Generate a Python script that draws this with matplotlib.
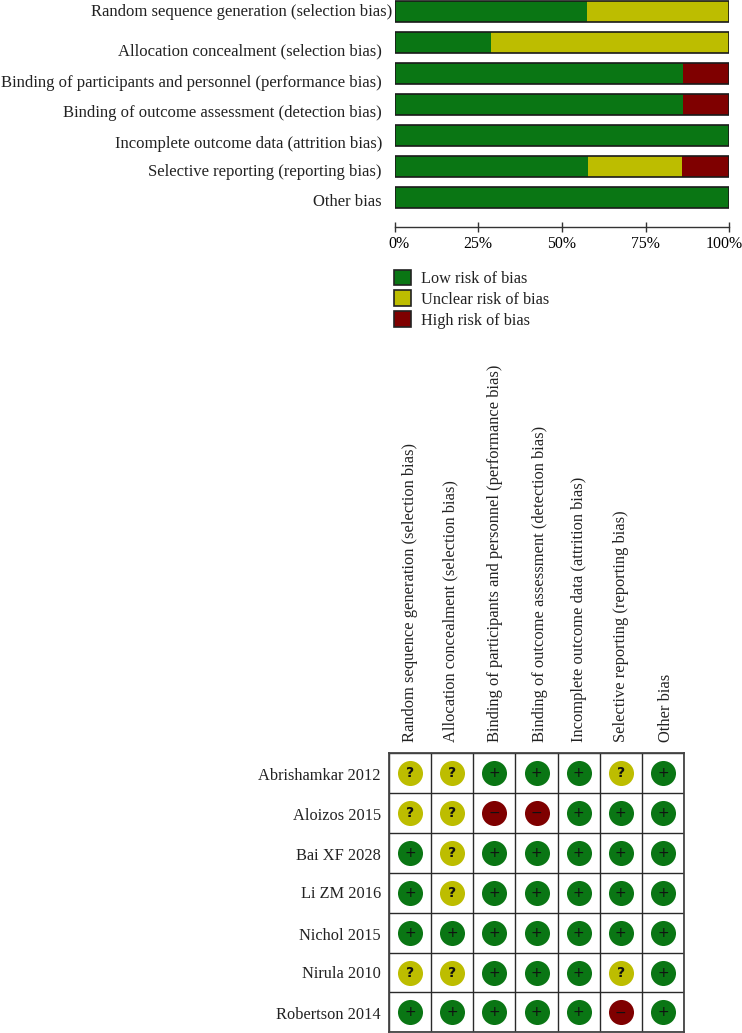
import matplotlib
matplotlib.use("Agg")
import matplotlib.pyplot as plt
from matplotlib.patches import Patch
from matplotlib.transforms import ScaledTranslation

W, H = 742, 1033
plt.rcParams['font.family'] = ['Liberation Serif', 'DejaVu Serif']
plt.rcParams['text.color'] = '#222222'

domains = ['Random sequence generation (selection bias)',
           'Allocation concealment (selection bias)',
           'Binding of participants and personnel (performance bias)',
           'Binding of outcome assessment (detection bias)',
           'Incomplete outcome data (attrition bias)',
           'Selective reporting (reporting bias)',
           'Other bias']
low = [57.4, 28.9, 86.1, 86.1, 100, 57.8, 100]
unclear = [42.6, 71.1, 0, 0, 0, 28.1, 0]
high = [0, 0, 13.9, 13.9, 0, 14.1, 0]

studies = ['Abrishamkar 2012', 'Aloizos 2015', 'Bai XF 2028', 'Li ZM 2016',
           'Nichol 2015', 'Nirula 2010', 'Robertson 2014']
ratings = ['??+++?+',
           '??--+++',
           '+?+++++',
           '+?+++++',
           '+++++++',
           '??+++?+',
           '+++++-+']

green = '#0a7614'
yellow = '#bdbd00'
red = '#7f0000'
colors = {'+': green, '?': yellow, '-': red}
symbols = {'+': '+', '?': '?', '-': '\u2212'}

# the labels in the source sit a little off their rows, offsets in px
bar_label_dx = [10, 0, 0, 0, 0, 0, 0]
bar_label_dy = [0.5, 8.5, 9.5, 8.5, 8.5, 5, 4.5]
study_label_dy = [3, 3, 3, 1, 3, 1, 3]
col_label_dx = [0, -2, 1, 3, 0, 0, 3]


def px_axes(fig, left, top, right, bottom):
    return fig.add_axes([left / W, 1 - bottom / H, (right - left) / W, (bottom - top) / H])


fig = plt.figure(figsize=(W / 100, H / 100), dpi=100)

# summary bars
ax = px_axes(fig, 394.5, 0, 729.5, 226.5)
ypos = list(range(len(domains)))
left_u = low
left_h = [a + b for a, b in zip(low, unclear)]
for vals, start, c in [(low, [0] * 7, green), (unclear, left_u, yellow), (high, left_h, red)]:
    ax.barh(ypos, vals, left=start, height=0.69, color=c, edgecolor='none', zorder=2)
ax.barh(ypos, [100] * 7, height=0.69, facecolor='none', edgecolor='#1a1a1a', linewidth=1.2, zorder=3)
ax.set_xlim(0, 100)
ax.set_ylim(215 / 31, -11.5 / 31)
for s in ['top', 'left', 'right']:
    ax.spines[s].set_visible(False)
ax.spines['bottom'].set_color('#333333')
ax.spines['bottom'].set_linewidth(1.0)
ax.set_yticks([])
for y, name, dx, dy in zip(ypos, domains, bar_label_dx, bar_label_dy):
    ax.annotate(name, (0, y), xytext=((dx - 12.5) * 0.72, -dy * 0.72), textcoords='offset points',
                ha='right', va='center', fontsize=12)
ax.set_xticks([0, 25, 50, 75, 100])
ax.set_xticklabels(['0%', '25%', '50%', '75%', '100%'], fontsize=11.4)
ax.tick_params(axis='x', direction='inout', length=7, width=1, color='#333333', pad=3.5)
xlabels = ax.get_xticklabels()
xlabels[0].set_transform(xlabels[0].get_transform() + ScaledTranslation(4 / 100, 0, fig.dpi_scale_trans))
xlabels[4].set_transform(xlabels[4].get_transform() + ScaledTranslation(-5 / 100, 0, fig.dpi_scale_trans))

# legend
handles = [Patch(facecolor=green, edgecolor='#222222', linewidth=1.2),
           Patch(facecolor=yellow, edgecolor='#222222', linewidth=1.2),
           Patch(facecolor=red, edgecolor='#222222', linewidth=1.2)]
fig.legend(handles, ['Low risk of bias', 'Unclear risk of bias', 'High risk of bias'],
           loc='upper left', bbox_to_anchor=(394 / W, 1 - 269.5 / H), frameon=False, fontsize=11.7,
           handlelength=1.05, handleheight=1.1, handletextpad=0.62, labelspacing=0.22,
           borderpad=0, borderaxespad=0)

# study matrix
mx = px_axes(fig, 389, 753.3, 684, 1032.3)
mx.set_xlim(0, 7)
mx.set_ylim(7, 0)
for row, code in enumerate(ratings):
    for col, r in enumerate(code):
        mx.scatter(col + 0.5, row + 0.5, s=325, color=colors[r], linewidths=0, zorder=3, clip_on=False)
        mx.annotate(symbols[r], (col + 0.5, row + 0.5), xytext=(0, 1.0), textcoords='offset points',
                    ha='center', va='center_baseline', fontsize=10, color='#111111',
                    fontfamily=['DejaVu Sans'], zorder=4,
                    fontweight='bold' if r == '?' else 'normal')
mx.set_xticks(range(8))
mx.set_yticks(range(8))
mx.grid(True, color='#2a2a2a', linewidth=1.0, zorder=1)
mx.tick_params(length=0, labelbottom=False, labelleft=False)
for s in mx.spines.values():
    s.set_color('#444444')
    s.set_linewidth(1.3)
for row, name in enumerate(studies):
    mx.annotate(name, (0, row + 0.5), xytext=(-8 * 0.72, -study_label_dy[row] * 0.72),
                textcoords='offset points', ha='right', va='center', fontsize=11.8)
for col, name in enumerate(domains):
    mx.annotate(name, (col + 0.5, 0), xytext=(col_label_dx[col] * 0.72, 11 * 0.72),
                textcoords='offset points', rotation=90, ha='center', va='bottom', fontsize=11.85)

fig.savefig('out.png', dpi=100)
